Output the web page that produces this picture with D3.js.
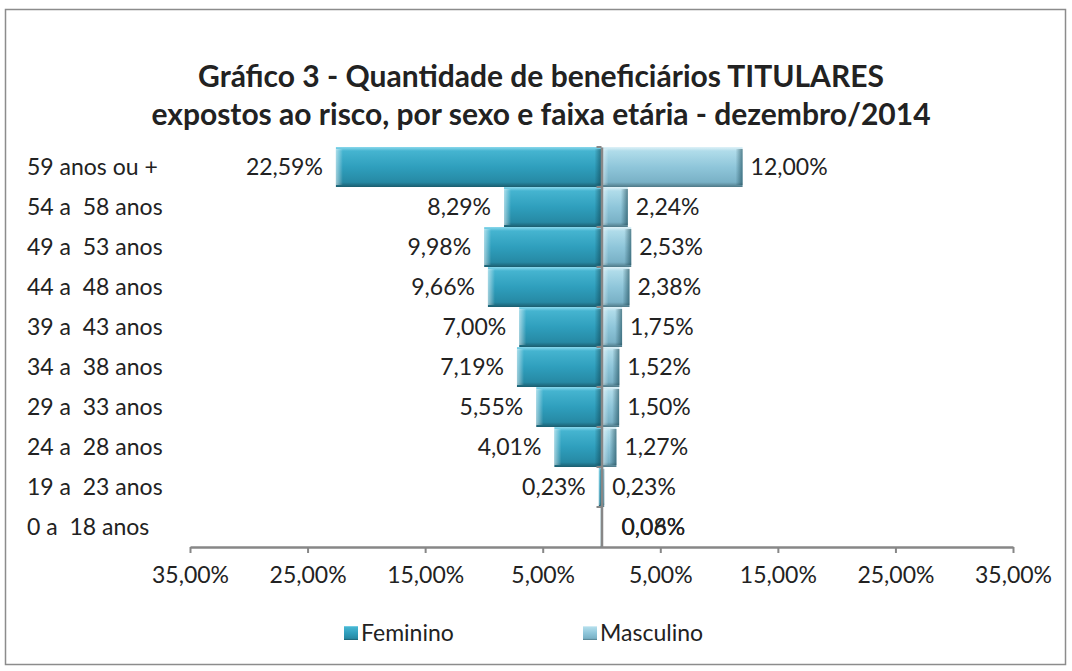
<!DOCTYPE html>
<html>
<head>
<meta charset="utf-8">
<script src="https://cdn.jsdelivr.net/npm/d3@7"></script>
<style>
  body { margin: 0; background: #fff; }
  svg text { font-family: Lato, "Open Sans", sans-serif; fill: #222; white-space: pre; }
</style>
</head>
<body>
<div id="chart"></div>
<script>
// dados
const categorias = ["59 anos ou +", "54 a  58 anos", "49 a  53 anos", "44 a  48 anos", "39 a  43 anos",
                    "34 a  38 anos", "29 a  33 anos", "24 a  28 anos", "19 a  23 anos", "0 a  18 anos"];
const feminino  = [22.59, 8.29, 9.98, 9.66, 7.00, 7.19, 5.55, 4.01, 0.23, 0.06];
const masculino = [12.00, 2.24, 2.53, 2.38, 1.75, 1.52, 1.50, 1.27, 0.23, 0.08];
const ticks = [-35, -25, -15, -5, 5, 15, 25, 35];
const titulo = ["Gráfico 3 - Quantidade de beneficiários TITULARES",
                "expostos ao risco, por sexo e faixa etária - dezembro/2014"];

const W = 1072, H = 671;
const fmt = v => Math.abs(v).toFixed(2).replace(".", ",") + "%";
const FS = "23px";

const svg = d3.select("#chart").append("svg").attr("width", W).attr("height", H);

// gradientes (efeito bisel)
const defs = svg.append("defs");
function vgrad(id, stops) {
    const g = defs.append("linearGradient").attr("id", id)
        .attr("x1", 0).attr("y1", 0).attr("x2", 0).attr("y2", 1);
    stops.forEach(s => g.append("stop").attr("offset", s[0]).attr("stop-color", s[1]));
}
vgrad("gFem", [[0, "#8ad8ec"], [0.1, "#45b4d0"], [0.5, "#2f9fbd"], [0.88, "#2689a4"], [1, "#1b5d6e"]]);
vgrad("gMas", [[0, "#dff2f8"], [0.1, "#b0dcea"], [0.5, "#8fc6da"], [0.88, "#79b1c6"], [1, "#4f7987"]]);
function hgrad(id, c) {
    const g = defs.append("linearGradient").attr("id", id)
        .attr("x1", 0).attr("y1", 0).attr("x2", 1).attr("y2", 0);
    g.append("stop").attr("offset", 0).attr("stop-color", c).attr("stop-opacity", 0.55);
    g.append("stop").attr("offset", 1).attr("stop-color", c).attr("stop-opacity", 0);
}
hgrad("edgeL", "#ffffff");
hgrad("edgeR", "#0d3a46");

// moldura
svg.append("rect").attr("x", 5.5).attr("y", 9.5).attr("width", 1060).attr("height", 655)
   .attr("fill", "#fff").attr("stroke", "#8c8c8c").attr("stroke-width", 1.5);

// título
svg.selectAll(".titulo").data(titulo).enter().append("text")
   .attr("x", 541).attr("y", (d, i) => 87 + i * 38)
   .attr("text-anchor", "middle")
   .style("font-size", "30px").style("font-weight", "bold")
   .text(d => d);

// escalas
const x = d3.scaleLinear().domain([-35, 35]).range([190, 1013]);
const y = d3.scaleBand().domain(categorias).range([147, 547]).padding(0);

// eixo x
const xAxis = svg.append("g").attr("transform", `translate(0,${547})`)
   .call(d3.axisBottom(x).tickValues(ticks).tickSize(6).tickSizeOuter(0)
           .tickFormat(d => fmt(d)));
xAxis.select(".domain").attr("stroke", "#878787").attr("stroke-width", 2.5);
xAxis.selectAll(".tick line").attr("stroke", "#878787").attr("stroke-width", 2);
xAxis.selectAll(".tick text").style("font-size", FS).attr("y", 36).attr("dy", "0");

// rótulos das categorias
svg.selectAll(".cat").data(categorias).enter().append("text")
   .attr("x", 27).attr("y", d => y(d) + y.bandwidth() / 2)
   .attr("dy", "0.35em").style("font-size", FS)
   .text(d => d);

// barras
const bw = y.bandwidth();
function drawBars(vals, sign, fill) {
    const g = svg.append("g");
    vals.forEach((v, i) => {
        const x0 = sign < 0 ? x(-v) : x(0);
        const w = Math.abs(x(v) - x(0));
        const y0 = y(categorias[i]);
        g.append("rect").attr("x", x0).attr("y", y0).attr("width", w).attr("height", bw)
         .attr("fill", `url(#${fill})`);
        const e = Math.min(7, w / 2);
        g.append("rect").attr("x", x0).attr("y", y0 + 2).attr("width", e).attr("height", bw - 4)
         .attr("fill", "url(#edgeL)");
        g.append("rect").attr("x", x0 + w - e).attr("y", y0 + 2).attr("width", e).attr("height", bw - 4)
         .attr("fill", "url(#edgeR)").attr("transform", `rotate(180,${x0 + w - e / 2},${y0 + bw / 2})`);
    });
}
drawBars(feminino, -1, "gFem");
drawBars(masculino, 1, "gMas");

// eixo vertical
const yAxis = svg.append("g").attr("transform", `translate(${x(0)},0)`)
   .call(d3.axisLeft(y).tickValues([]).tickSizeOuter(0));
yAxis.select(".domain").attr("stroke", "#878787").attr("stroke-width", 2.5);
svg.append("g").selectAll("line").data(categorias).enter().append("line")
   .attr("x1", x(0) - 5).attr("x2", x(0))
   .attr("y1", d => y(d)).attr("y2", d => y(d))
   .attr("stroke", "#878787").attr("stroke-width", 2);

// rótulos de valor
svg.selectAll(".lblF").data(feminino).enter().append("text")
   .attr("x", d => d < 0.1 ? x(0) + 20 : x(-d) - 13)
   .attr("y", (d, i) => y(categorias[i]) + bw / 2)
   .attr("dy", "0.35em").attr("text-anchor", d => d < 0.1 ? "start" : "end")
   .style("font-size", FS).text(d => fmt(d));
svg.selectAll(".lblM").data(masculino).enter().append("text")
   .attr("x", d => d < 0.1 ? x(0) + 20 : x(d) + 8)
   .attr("y", (d, i) => y(categorias[i]) + bw / 2)
   .attr("dy", "0.35em").style("font-size", FS).text(d => fmt(d));

// legenda
const legenda = [{ nome: "Feminino", cor: "gFem", x: 344 }, { nome: "Masculino", cor: "gMas", x: 583 }];
const lg = svg.selectAll(".legenda").data(legenda).enter().append("g")
   .attr("transform", d => `translate(${d.x},${626})`);
lg.append("rect").attr("width", 14).attr("height", 14).attr("fill", d => `url(#${d.cor})`);
lg.append("text").attr("x", 17).attr("y", 7).attr("dy", "0.35em")
   .style("font-size", FS).text(d => d.nome);
</script>
</body>
</html>
